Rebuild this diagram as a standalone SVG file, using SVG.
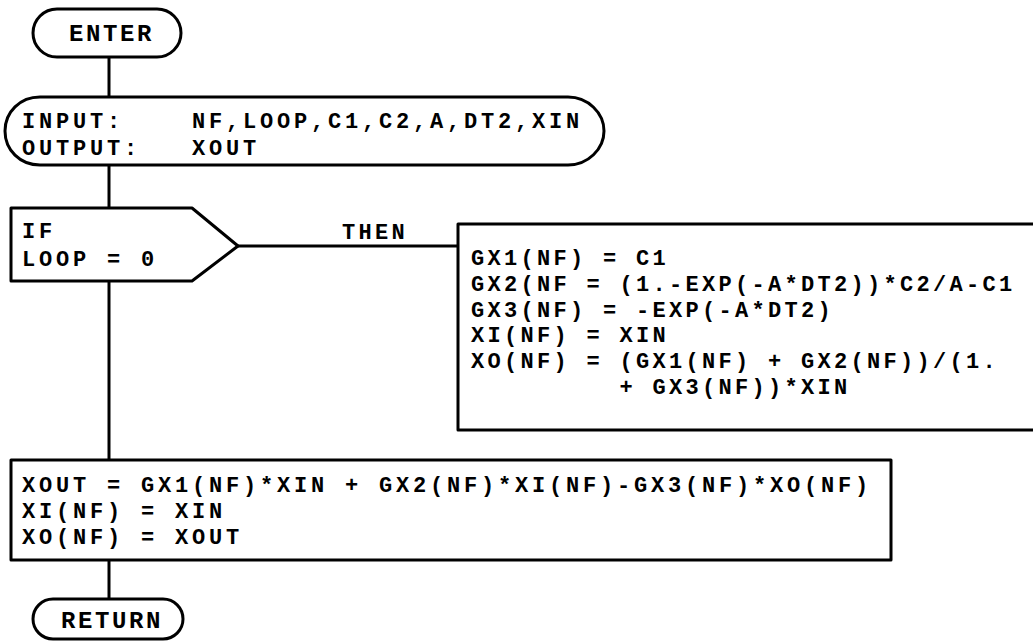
<svg xmlns="http://www.w3.org/2000/svg" width="1033" height="643" viewBox="0 0 1033 643">
  <style>
    .shape { fill: #ffffff; stroke: #000000; stroke-width: 3; stroke-linejoin: round; }
    .conn { fill: none; stroke: #000000; stroke-width: 3; }
    text { font-family: "Liberation Mono", "DejaVu Sans Mono", monospace; font-weight: bold; fill: #000000; font-size: 22px; }
    .left { letter-spacing: 3.8px; }
    .right { letter-spacing: 3.3px; }
    .term { font-size: 24px; letter-spacing: 2.6px; }
  </style>
  <rect width="1033" height="643" fill="#ffffff"/>

  <g id="connectors">
    <line class="conn" x1="109" y1="57" x2="109" y2="97"/>
    <line class="conn" x1="109" y1="165" x2="109" y2="208"/>
    <line class="conn" x1="238" y1="246" x2="458" y2="246"/>
    <line class="conn" x1="109" y1="281" x2="109" y2="460"/>
    <line class="conn" x1="109" y1="560" x2="109" y2="599"/>
    <text x="342" y="239" class="right">THEN</text>
  </g>

  <g id="enter">
    <rect class="shape" x="33" y="9" width="148" height="48" rx="24" ry="24"/>
    <text class="term" x="69" y="41">ENTER</text>
  </g>

  <g id="io">
    <path class="shape" d="M40,97 H568 C588,97 604,113 604,131 C604,149 588,165 568,165 H40 C20,165 5,150 5,131 C5,112 20,97 40,97 Z"/>
    <text class="left" x="22" y="128" xml:space="preserve">INPUT:    NF,LOOP,C1,C2,A,DT2,XIN</text>
    <text class="left" x="22" y="155" xml:space="preserve">OUTPUT:   XOUT</text>
  </g>

  <g id="decision">
    <path class="shape" d="M11,208 H192 L238,246 L192,281 H11 Z"/>
    <text class="left" x="22" y="238">IF</text>
    <text class="left" x="22" y="266" xml:space="preserve">LOOP = 0</text>
  </g>

  <g id="init">
    <rect class="shape" x="458" y="224" width="600" height="206"/>
    <text class="right" x="471" y="265" xml:space="preserve">GX1(NF) = C1</text>
    <text class="right" x="471" y="291" xml:space="preserve">GX2(NF = (1.-EXP(-A*DT2))*C2/A-C1</text>
    <text class="right" x="471" y="317" xml:space="preserve">GX3(NF) = -EXP(-A*DT2)</text>
    <text class="right" x="471" y="342" xml:space="preserve">XI(NF) = XIN</text>
    <text class="right" x="471" y="368" xml:space="preserve">XO(NF) = (GX1(NF) + GX2(NF))/(1.</text>
    <text class="right" x="471" y="394" xml:space="preserve">         + GX3(NF))*XIN</text>
  </g>

  <g id="update">
    <rect class="shape" x="11" y="460" width="880" height="100"/>
    <text class="left" x="22" y="492" xml:space="preserve">XOUT = GX1(NF)*XIN + GX2(NF)*XI(NF)-GX3(NF)*XO(NF)</text>
    <text class="left" x="22" y="518" xml:space="preserve">XI(NF) = XIN</text>
    <text class="left" x="22" y="544" xml:space="preserve">XO(NF) = XOUT</text>
  </g>

  <g id="return">
    <rect class="shape" x="33" y="599" width="150" height="40" rx="20" ry="20"/>
    <text class="term" x="61" y="628">RETURN</text>
  </g>
</svg>
